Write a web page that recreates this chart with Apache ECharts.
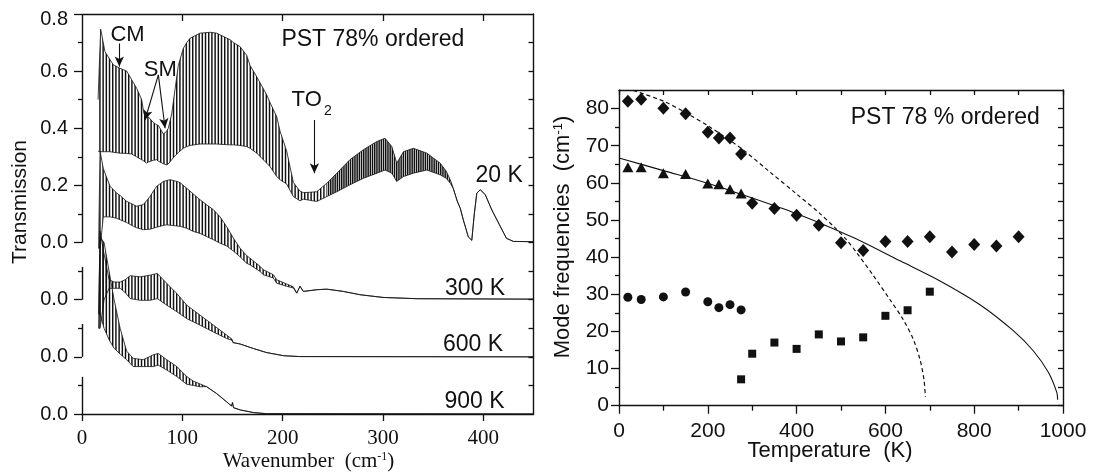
<!DOCTYPE html>
<html><head><meta charset="utf-8">
<script src="https://cdn.jsdelivr.net/npm/echarts@6/dist/echarts.min.js"></script>
<style>html,body{margin:0;padding:0;background:#fff}#c{width:1094px;height:473px}</style>
</head><body><div id="c"></div>
<script>
// ================= LEFT PANEL: transmission spectra =================
// Each spectrum: wavenumber (cm-1), upper and lower envelope of the interference fringes
// (where both are equal, the spectrum is a plain line). Values are transmission without offset.
const labelsT = ['20 K', '300 K', '600 K', '900 K'];
const offsets = [0.6, 0.4, 0.2, 0.0];

const nu20 = [16,18.6,22.9,28,31.2,37.9,44.6,49.5,54.5,59.5,61.8,64.4,66.1,71.1,74.5,76.1,81.1,84.4,86,89.4,91.7,96,101,104.4,107.7,117.6,127.6,134.3,137.6,147.6,151,157.5,164.2,167.5,174.2,184.1,187.4,194.1,197.4,204,210.7,217.3,220.6,227,234,244,254,267,280.5,294,302,308.8,313.7,320.4,330.3,343.7,357,363,367,370,374,377,380,385,388.5,391,393.5,397,402,408.5,417,423,430,450];
const hi20 = [0.50,0.747,0.668,0.64,0.622,0.61,0.60,0.57,0.54,0.50,0.45,0.445,0.44,0.42,0.412,0.41,0.38,0.39,0.40,0.45,0.51,0.62,0.68,0.70,0.715,0.733,0.736,0.733,0.727,0.71,0.70,0.686,0.655,0.62,0.58,0.517,0.49,0.44,0.39,0.32,0.21,0.18,0.175,0.176,0.178,0.208,0.243,0.29,0.325,0.354,0.365,0.336,0.278,0.318,0.33,0.313,0.278,0.25,0.22,0.19,0.145,0.12,0.08,0.02,0.008,0.10,0.173,0.185,0.167,0.114,0.056,0.015,0.004,0.003];
const lo20 = [0.32,0.318,0.318,0.318,0.316,0.313,0.312,0.31,0.30,0.29,0.285,0.278,0.282,0.288,0.29,0.285,0.276,0.272,0.275,0.29,0.30,0.315,0.33,0.336,0.34,0.345,0.345,0.345,0.344,0.342,0.342,0.34,0.336,0.33,0.313,0.278,0.266,0.231,0.22,0.205,0.161,0.146,0.152,0.148,0.144,0.161,0.178,0.202,0.225,0.243,0.254,0.243,0.214,0.231,0.243,0.254,0.237,0.225,0.208,0.19,0.145,0.12,0.08,0.02,0.008,0.10,0.173,0.185,0.167,0.114,0.056,0.015,0.004,0.003];

const nu300 = [16.5,18,21.2,22.9,28,34.6,38,44.6,51.2,54.5,61.2,67.8,71.1,74.5,81.1,84.4,87.8,94.4,97.7,104.4,111,117.6,124.3,131,137.6,144.3,151,157.6,164,167.5,177.4,180.8,190.7,194,204,210.7,214,217.3,220.6,234,244,260.5,277,300,334,450];
const hi300 = [0.18,0.52,0.46,0.443,0.397,0.373,0.365,0.344,0.333,0.327,0.333,0.361,0.38,0.397,0.414,0.417,0.42,0.414,0.41,0.39,0.37,0.35,0.332,0.315,0.29,0.255,0.215,0.18,0.155,0.145,0.117,0.105,0.0875,0.07,0.055,0.045,0.023,0.047,0.029,0.035,0.037,0.029,0.0175,0.008,0.0035,0.002];
const lo300 = [0.18,0.18,0.29,0.29,0.29,0.285,0.28,0.27,0.257,0.252,0.245,0.247,0.25,0.254,0.26,0.262,0.261,0.258,0.257,0.25,0.239,0.232,0.221,0.21,0.198,0.188,0.17,0.15,0.128,0.122,0.099,0.0875,0.076,0.058,0.047,0.041,0.023,0.047,0.029,0.035,0.037,0.029,0.0175,0.008,0.0035,0.002];

const nu600 = [16.5,18,22,27,32,38,43,48,58,68,75,84.5,94.5,104.4,117.7,131,144.3,149.5,150.5,157.6,171,184,201,217,450];
const hi600 = [0.10,0.44,0.36,0.27,0.262,0.262,0.27,0.284,0.28,0.286,0.292,0.257,0.222,0.181,0.146,0.111,0.076,0.062,0.05,0.045,0.029,0.015,0.004,0.001,0.0];
const lo600 = [0.10,0.10,0.20,0.24,0.24,0.24,0.225,0.204,0.198,0.198,0.204,0.181,0.158,0.134,0.111,0.087,0.064,0.058,0.05,0.045,0.029,0.015,0.004,0.001,0.0];

const nu900 = [16.5,18,22,27,32,38,44.5,51,61,71,76,84.5,94.5,104.4,111,117.7,124,134,144,149,150,151,158,171,184,450];
const hi900 = [0.35,0.62,0.60,0.50,0.40,0.30,0.22,0.195,0.19,0.207,0.212,0.19,0.166,0.131,0.115,0.105,0.096,0.072,0.043,0.028,0.04,0.022,0.014,0.005,0.001,0.0];
const lo900 = [0.35,0.35,0.30,0.26,0.23,0.21,0.19,0.166,0.166,0.166,0.171,0.154,0.131,0.104,0.10,0.095,0.096,0.072,0.043,0.028,0.04,0.022,0.014,0.005,0.001,0.0];

// axis ticks / labels (left panel)
const leftXTicks = [0, 100, 200, 300, 400];
const leftTopTicks = [100, 200, 300, 400];
const leftYTickValues = [0, 0.2, 0.4, 0.6, 0.8, 1.0, 1.2, 1.4];
const leftYTickLabels = ['0.0', '0.0', '0.0', '0.0', '0.2', '0.4', '0.6', '0.8'];
const leftYMinorTicks = [0.1, 0.3, 0.5, 0.7, 0.9, 1.1, 1.3];
const leftRightTicks = [0.1, 0.2, 0.3, 0.4, 0.5, 0.6, 0.7, 0.8, 0.9, 1.0, 1.1, 1.2, 1.3];
const leftAxisSegments = [[0, 0.13], [0.2, 0.315], [0.4, 0.515], [0.6, 1.4]];

// annotation arrows (wavenumber, stacked transmission)
const arrowCM  = [[37.2, 1.297], [37.2, 1.216]];
const arrowSM1 = [[76.1, 1.187], [62.8, 1.029]];
const arrowSM2 = [[76.1, 1.187], [82.8, 1.000]];
const arrowTO2 = [[231.6, 1.029], [231.6, 0.843]];

// ================= RIGHT PANEL: mode frequencies =================
const tDiamond = [20,50,100,150,200,225,250,275,300,350,400,450,500,550,600,650,700,750,800,850,900];
const fDiamond = [82.0,82.5,80.1,78.6,73.6,72.1,72.1,67.8,54.5,53.1,51.3,48.6,43.9,41.8,44.2,44.2,45.5,41.4,43.4,43.0,45.5];
const tTriangle = [20,50,100,150,200,225,250,275];
const fTriangle = [64.2,64.2,62.6,62.4,59.8,59.6,58.3,57.1];
const tCircle = [20,50,100,150,200,225,250,275];
const fCircle = [29.2,28.6,29.3,30.6,28.0,26.4,27.2,25.8];
const tSquare = [275,300,350,400,450,500,550,600,650,700];
const fSquare = [7.1,14.0,17.0,15.3,19.2,17.3,18.4,24.2,25.7,30.7];
const tSolid = [0,100,200,300,400,450,535,633,723,813,888,933,967,986,988];
const fSolid = [66.7,63.3,59.9,55.9,51.7,49.3,44.9,39.0,33.6,27.2,20.2,14.8,9.0,3.6,1.6];
const tDashed = [32,100,150,201,275,339,400,450,483,513,539,573,610,640,663,678,687,690];
const fDashed = [84.9,82.0,78.9,75.3,69.3,63.0,57.0,52.0,48.3,44.6,40.6,35.0,28.6,23.2,17.8,12.4,6.9,2.4];
const rightXTicks = [0, 200, 400, 600, 800, 1000];
const rightYTicks = [0, 10, 20, 30, 40, 50, 60, 70, 80];
const rightYMinor = [5, 15, 25, 35, 45, 55, 65, 75];
const rightYRight = [0, 5, 10, 15, 20, 25, 30, 35, 40, 45, 50, 55, 60, 65, 70, 75, 80];

// ================= styling =================
const SANS = '"Liberation Sans", Arial, Helvetica, sans-serif';
const SERIF = '"Liberation Serif", "Times New Roman", serif';
const INK = '#111111';
const DENSE_FROM = 244;

function stripes(period, lineW) {
  const n = 5;
  const c = document.createElement('canvas');
  c.width = Math.round(period * n); c.height = 6;
  const ctx = c.getContext('2d');
  ctx.fillStyle = INK;
  for (let i = 0; i < n; i++) ctx.fillRect(i * c.width / n, 0, lineW, 6);
  return {type: 'pattern', image: c, repeat: 'repeat'};
}
const sparseFill = stripes(3.2, 1.45);
const denseFill = stripes(2.2, 1.5);

const spectra = [
  {nu: nu20, hi: hi20, lo: lo20, off: offsets[0]},
  {nu: nu300, hi: hi300, lo: lo300, off: offsets[1]},
  {nu: nu600, hi: hi600, lo: lo600, off: offsets[2]},
  {nu: nu900, hi: hi900, lo: lo900, off: offsets[3]}
];

function renderSpectrum(params, api) {
  const s = spectra[params.dataIndex];
  const up = s.nu.map((n, i) => api.coord([n, s.hi[i] + s.off]));
  const lo = s.nu.map((n, i) => api.coord([n, s.lo[i] + s.off]));
  const children = [];
  const poly = (a, b, fill) => {
    const pts = up.slice(a, b + 1).concat(lo.slice(a, b + 1).reverse());
    children.push({type: 'polygon', silent: true, shape: {points: pts}, style: {fill: fill, stroke: null}});
  };
  const k = s.nu.findIndex(n => n >= DENSE_FROM);
  if (k > 0) { poly(0, k, sparseFill); poly(k, up.length - 1, denseFill); }
  else poly(0, up.length - 1, sparseFill);
  children.push({type: 'polyline', silent: true, shape: {points: up}, style: {stroke: INK, lineWidth: 0.8, fill: null}});
  children.push({type: 'polyline', silent: true, shape: {points: lo}, style: {stroke: INK, lineWidth: 0.8, fill: null}});
  return {type: 'group', children: children};
}

const axLine = {show: true, onZero: false, lineStyle: {color: INK, width: 1.4}};
const tickStyle = {color: INK, width: 1.3};

function mlPair(p, withArrow, width) {
  return [{coord: p[0], symbol: 'none'}, {coord: p[1], symbol: withArrow ? 'arrow' : 'none', symbolSize: withArrow ? [7, 10] : 0, lineStyle: {width: width}}];
}

const chart = echarts.init(document.getElementById('c'), null, {renderer: 'canvas'});

const option = {
  animation: false,
  backgroundColor: '#fff',
  grid: [
    {left: 82, top: 14, width: 451.5, height: 400},
    {left: 619, top: 90, width: 444, height: 315.7}
  ],
  xAxis: [
    {gridIndex: 0, type: 'value', min: 0, max: 450, position: 'bottom', axisLine: axLine,
     axisTick: {show: true, inside: false, length: 7, customValues: leftXTicks, lineStyle: tickStyle},
     axisLabel: {show: true, customValues: leftXTicks, fontFamily: SERIF, fontSize: 21, color: INK, margin: 14},
     splitLine: {show: false}},
    {gridIndex: 0, type: 'value', min: 0, max: 450, position: 'top', axisLine: axLine,
     axisTick: {show: true, inside: true, length: 7, customValues: leftTopTicks, lineStyle: tickStyle},
     axisLabel: {show: false}, splitLine: {show: false}},
    {gridIndex: 1, type: 'value', min: 0, max: 1000, interval: 200, position: 'bottom', axisLine: axLine,
     axisTick: {show: true, inside: false, length: 8, lineStyle: tickStyle},
     minorTick: {show: true, splitNumber: 2, length: 5, lineStyle: tickStyle},
     axisLabel: {show: true, customValues: rightXTicks, fontFamily: SANS, fontSize: 21, color: INK, margin: 15,
       formatter: function (v) { return String(v); }},
     splitLine: {show: false}},
    {gridIndex: 1, type: 'value', min: 0, max: 1000, interval: 100, position: 'top', axisLine: axLine,
     axisTick: {show: true, inside: true, length: 5, lineStyle: tickStyle},
     axisLabel: {show: false}, splitLine: {show: false}}
  ],
  yAxis: [
    {gridIndex: 0, type: 'value', min: 0, max: 1.4, position: 'left', axisLine: {show: false, onZero: false},
     axisTick: {show: true, inside: false, length: 8, customValues: leftYTickValues, lineStyle: tickStyle},
     axisLabel: {show: true, customValues: leftYTickValues, fontFamily: SANS, fontSize: 20, color: INK, margin: 14,
       formatter: function (v) {
         const i = leftYTickValues.findIndex(t => Math.abs(t - v) < 1e-6);
         const s = i >= 0 ? leftYTickLabels[i] : '';
         return i === leftYTickValues.length - 1 ? '{t|' + s + '}' : s;
       },
       rich: {t: {fontFamily: SANS, fontSize: 20, color: INK, padding: [11, 0, 0, 0]}}},
     splitLine: {show: false}},
    {gridIndex: 0, type: 'value', min: 0, max: 1.4, position: 'left', axisLine: {show: false, onZero: false},
     axisTick: {show: true, inside: false, length: 4, customValues: leftYMinorTicks, lineStyle: tickStyle},
     axisLabel: {show: false}, splitLine: {show: false}},
    {gridIndex: 0, type: 'value', min: 0, max: 1.4, position: 'right', axisLine: axLine,
     axisTick: {show: true, inside: true, length: 5, customValues: leftRightTicks, lineStyle: tickStyle},
     axisLabel: {show: false}, splitLine: {show: false}},
    {gridIndex: 1, type: 'value', min: 0, max: 85, position: 'left', axisLine: axLine,
     axisTick: {show: true, inside: false, length: 8, customValues: rightYTicks, lineStyle: tickStyle},
     axisLabel: {show: true, customValues: rightYTicks, fontFamily: SANS, fontSize: 21, color: INK, margin: 10},
     splitLine: {show: false}},
    {gridIndex: 1, type: 'value', min: 0, max: 85, position: 'left', axisLine: {show: false, onZero: false},
     axisTick: {show: true, inside: false, length: 4, customValues: rightYMinor, lineStyle: tickStyle},
     axisLabel: {show: false}, splitLine: {show: false}},
    {gridIndex: 1, type: 'value', min: 0, max: 85, position: 'right', axisLine: axLine,
     axisTick: {show: true, inside: true, length: 5, customValues: rightYRight, lineStyle: tickStyle},
     axisLabel: {show: false}, splitLine: {show: false}}
  ],
  series: [
    {type: 'custom', name: 'spectra', xAxisIndex: 0, yAxisIndex: 0, silent: true,
     data: spectra.map((s, i) => [s.nu[0], s.off]), renderItem: renderSpectrum, clip: false},
    {type: 'line', name: 'annotations', xAxisIndex: 0, yAxisIndex: 0, data: [], silent: true, clip: false,
     markLine: {silent: true, animation: false, symbol: ['none', 'none'], label: {show: false},
       lineStyle: {type: 'solid', color: INK, width: 1.1},
       emphasis: {disabled: true},
       data: leftAxisSegments.map(s => mlPair([[0, s[0]], [0, s[1]]], false, 1.4)).concat([
         mlPair(arrowCM, true, 1.1),
         mlPair(arrowSM1, true, 1.1),
         mlPair(arrowSM2, true, 1.1),
         mlPair(arrowTO2, true, 1.1)
       ])}},
    {type: 'line', name: 'fit solid', xAxisIndex: 2, yAxisIndex: 3, data: tSolid.map((t, i) => [t, fSolid[i]]),
     smooth: 0.3, showSymbol: false, symbol: 'none', lineStyle: {color: INK, width: 1.1}, silent: true},
    {type: 'line', name: 'fit dashed', xAxisIndex: 2, yAxisIndex: 3, data: tDashed.map((t, i) => [t, fDashed[i]]),
     smooth: 0.3, showSymbol: false, symbol: 'none', lineStyle: {color: INK, width: 1.2, type: [4, 3]}, silent: true},
    {type: 'scatter', name: 'diamonds', xAxisIndex: 2, yAxisIndex: 3, data: tDiamond.map((t, i) => [t, fDiamond[i]]),
     symbol: 'diamond', symbolSize: [12, 13], itemStyle: {color: INK, opacity: 1}, silent: true},
    {type: 'scatter', name: 'triangles', xAxisIndex: 2, yAxisIndex: 3, data: tTriangle.map((t, i) => [t, fTriangle[i]]),
     symbol: 'triangle', symbolSize: [11, 10], itemStyle: {color: INK, opacity: 1}, silent: true},
    {type: 'scatter', name: 'circles', xAxisIndex: 2, yAxisIndex: 3, data: tCircle.map((t, i) => [t, fCircle[i]]),
     symbol: 'circle', symbolSize: 9, itemStyle: {color: INK, opacity: 1}, silent: true},
    {type: 'scatter', name: 'squares', xAxisIndex: 2, yAxisIndex: 3, data: tSquare.map((t, i) => [t, fSquare[i]]),
     symbol: 'rect', symbolSize: 8, itemStyle: {color: INK, opacity: 1}, silent: true}
  ],
  graphic: []
};

function txt(text, x, y, size, opts) {
  opts = opts || {};
  return {type: 'text', x: x, y: y, rotation: opts.rotation || 0, silent: true, z: 100,
    style: Object.assign({text: text, fontFamily: opts.family || SANS, fontSize: size, fill: INK,
      align: 'center', verticalAlign: 'middle', textAlign: 'center', textVerticalAlign: 'middle'}, opts.style || {})};
}
option.graphic = [
  txt('PST 78% ordered', 372.8, 40, 23),
  txt('CM', 127.5, 35, 22),
  txt('SM', 160.3, 70, 22),
  txt('TO', 306.7, 100, 22),
  txt('2', 328, 111, 14),
  txt(labelsT[0], 499.2, 176, 23),
  txt(labelsT[1], 475, 288.5, 23),
  txt(labelsT[2], 473, 344.5, 23),
  txt(labelsT[3], 474.5, 402, 23),
  txt('PST 78 % ordered', 945.3, 118, 23),
  txt('Transmission', 20, 202, 21, {rotation: Math.PI / 2}),
  txt('{a|Wavenumber  (cm}{s|-1}{a|)}', 308.5, 461, 21, {family: SERIF,
    style: {rich: {a: {fontFamily: SERIF, fontSize: 21, fill: INK}, s: {fontFamily: SERIF, fontSize: 12, fill: INK, verticalAlign: 'top', padding: [0, 0, 6, 0]}}}}),
  txt('{a|Mode frequencies  (cm}{s|-1}{a|)}', 563, 237, 22, {rotation: Math.PI / 2,
    style: {rich: {a: {fontFamily: SANS, fontSize: 22, fill: INK}, s: {fontFamily: SANS, fontSize: 13, fill: INK, verticalAlign: 'top', padding: [0, 0, 6, 0]}}}}),
  txt('Temperature  (K)', 830, 451, 22)
];

chart.setOption(option);
</script>
</body></html>
